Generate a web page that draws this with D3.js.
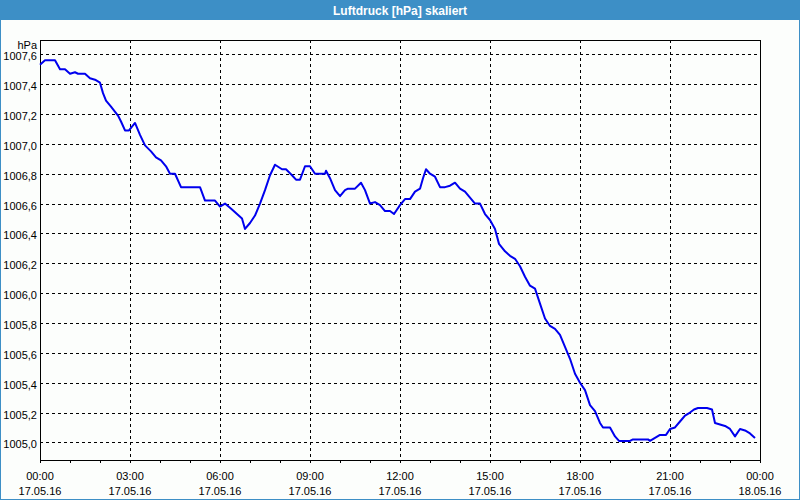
<!DOCTYPE html>
<html>
<head>
<meta charset="utf-8">
<script src="https://cdn.jsdelivr.net/npm/d3@7"></script>
<style>
  html, body { margin: 0; padding: 0; background: #fcfefc; }
  svg { display: block; }
  text { font-family: "Liberation Sans", Arial, sans-serif; }
</style>
</head>
<body>
<svg id="chart" width="800" height="500"></svg>
<script>
const titleText = "Luftdruck [hPa] skaliert";
const unitLabel = "hPa";
const times = ["00:00","00:10","00:30","00:40","00:50","01:00","01:10","01:16","01:30","01:40","01:50","02:00","02:06","02:12","02:22","02:36","02:42","02:50","02:58","03:10","03:20","03:30","03:42","03:52","04:02","04:12","04:20","04:30","04:42","05:20","05:30","05:50","06:00","06:10","06:24","06:34","06:44","06:50","07:00","07:10","07:20","07:30","07:40","07:50","08:04","08:12","08:24","08:32","08:40","08:50","09:00","09:10","09:30","09:32","09:40","09:50","10:00","10:10","10:16","10:30","10:42","10:50","11:00","11:10","11:20","11:30","11:40","11:48","12:00","12:10","12:20","12:30","12:40","12:46","12:52","13:00","13:10","13:20","13:30","13:40","13:50","14:00","14:10","14:20","14:30","14:40","14:50","15:00","15:10","15:18","15:30","15:40","15:50","16:00","16:10","16:20","16:30","16:40","16:50","17:00","17:10","17:20","17:30","17:40","17:50","18:00","18:10","18:20","18:30","18:40","18:46","19:00","19:10","19:18","19:40","19:46","20:16","20:20","20:30","20:40","20:52","21:00","21:10","21:20","21:30","21:40","21:48","21:56","22:14","22:24","22:30","22:40","22:50","23:00","23:10","23:20","23:30","23:40","23:50"];
const pressure = [1007.53,1007.56,1007.56,1007.50,1007.50,1007.47,1007.48,1007.47,1007.47,1007.44,1007.43,1007.41,1007.34,1007.29,1007.25,1007.19,1007.15,1007.09,1007.09,1007.14,1007.06,1006.99,1006.95,1006.91,1006.89,1006.85,1006.80,1006.80,1006.71,1006.71,1006.62,1006.62,1006.58,1006.60,1006.56,1006.53,1006.50,1006.43,1006.47,1006.52,1006.60,1006.69,1006.79,1006.86,1006.83,1006.83,1006.79,1006.76,1006.76,1006.85,1006.85,1006.80,1006.80,1006.82,1006.77,1006.69,1006.65,1006.69,1006.70,1006.70,1006.74,1006.69,1006.60,1006.61,1006.59,1006.55,1006.55,1006.53,1006.59,1006.63,1006.63,1006.68,1006.70,1006.77,1006.83,1006.80,1006.78,1006.71,1006.71,1006.72,1006.74,1006.70,1006.68,1006.64,1006.60,1006.60,1006.53,1006.49,1006.43,1006.33,1006.28,1006.25,1006.23,1006.18,1006.11,1006.05,1006.03,1005.93,1005.83,1005.78,1005.76,1005.72,1005.64,1005.56,1005.46,1005.40,1005.35,1005.25,1005.21,1005.13,1005.10,1005.10,1005.04,1005.01,1005.01,1005.02,1005.02,1005.01,1005.03,1005.05,1005.05,1005.09,1005.10,1005.14,1005.18,1005.20,1005.22,1005.23,1005.23,1005.22,1005.13,1005.12,1005.11,1005.09,1005.04,1005.09,1005.08,1005.06,1005.03];
const yTicks = [1005.0,1005.2,1005.4,1005.6,1005.8,1006.0,1006.2,1006.4,1006.6,1006.8,1007.0,1007.2,1007.4,1007.6];
const xTickHours = [0,3,6,9,12,15,18,21,24];
const xTickLabels = [["00:00","17.05.16"],["03:00","17.05.16"],["06:00","17.05.16"],["09:00","17.05.16"],["12:00","17.05.16"],["15:00","17.05.16"],["18:00","17.05.16"],["21:00","17.05.16"],["00:00","18.05.16"]];
const yDomain = [1004.882, 1007.696];

const W = 800, H = 500;
const plot = {left: 40, right: 760, top: 40, bottom: 460};
const svg = d3.select("#chart");

const hours = times.map(t => { const [h, m] = t.split(":").map(Number); return h + m / 60; });
const data = hours.map((h, i) => ({h, v: pressure[i]}));

const x = d3.scaleLinear().domain([0, 24]).range([plot.left, plot.right]);
const y = d3.scaleLinear().domain(yDomain).range([plot.bottom, plot.top]);

// background and frame
svg.append("rect").attr("width", W).attr("height", H).attr("fill", "#fcfefc");
svg.append("rect").attr("x", 0).attr("y", 0).attr("width", W).attr("height", 20).attr("fill", "#3d8fc6");
svg.append("rect").attr("x", 0.5).attr("y", 0.5).attr("width", W - 1).attr("height", H - 1)
  .attr("fill", "none").attr("stroke", "#3d8fc6").attr("stroke-width", 1);
svg.append("text").attr("x", W / 2).attr("y", 14.5).attr("text-anchor", "middle")
  .attr("fill", "#ffffff").attr("font-weight", "bold").attr("font-size", 12).text(titleText);

// grid
const grid = svg.append("g").attr("shape-rendering", "crispEdges");
grid.selectAll("line.h").data(yTicks).join("line")
  .attr("x1", plot.left).attr("x2", plot.right)
  .attr("y1", d => Math.round(y(d)) + 0.5).attr("y2", d => Math.round(y(d)) + 0.5)
  .attr("stroke", "#000").attr("stroke-dasharray", "3,3");
grid.selectAll("line.v").data(xTickHours.filter(h => h > 0 && h < 24)).join("line")
  .attr("x1", d => Math.round(x(d)) + 0.5).attr("x2", d => Math.round(x(d)) + 0.5)
  .attr("y1", plot.top).attr("y2", plot.bottom)
  .attr("stroke", "#000").attr("stroke-dasharray", "3,3");

// axes
const xAxis = d3.axisBottom(x).tickValues(d3.range(0, 25, 1)).tickSize(3).tickFormat("");
const gx = svg.append("g").attr("transform", `translate(0,${plot.bottom})`).call(xAxis);
gx.select(".domain").attr("stroke", "#000");
gx.selectAll(".tick line").attr("stroke", "#000");

const gy = svg.append("g").attr("transform", `translate(${plot.left},0)`)
  .call(d3.axisLeft(y).tickValues(yTicks).tickSize(0).tickPadding(3)
    .tickFormat(d => d3.format(".1f")(d).replace(".", ",")));
gy.select(".domain").remove();
gy.selectAll(".tick text").attr("font-size", 11).attr("fill", "#000")
  .attr("font-family", "Liberation Sans, Arial, sans-serif").attr("dy", "0.5em");

// plot frame
svg.append("rect").attr("x", plot.left + 0.5).attr("y", plot.top + 0.5)
  .attr("width", plot.right - plot.left).attr("height", plot.bottom - plot.top)
  .attr("fill", "none").attr("stroke", "#000").attr("shape-rendering", "crispEdges");

svg.append("text").attr("x", 37).attr("y", 49).attr("text-anchor", "end")
  .attr("font-size", 11).attr("fill", "#000").text(unitLabel);

// x labels
const xl = svg.append("g");
xTickHours.forEach((h, i) => {
  xl.append("text").attr("x", x(h)).attr("y", 480).attr("text-anchor", "middle")
    .attr("font-size", 11).attr("fill", "#000").text(xTickLabels[i][0]);
  xl.append("text").attr("x", x(h)).attr("y", 494.5).attr("text-anchor", "middle")
    .attr("font-size", 11).attr("fill", "#000").text(xTickLabels[i][1]);
});

// line
const line = d3.line().x(d => x(d.h)).y(d => y(d.v));
svg.append("path").datum(data).attr("d", line)
  .attr("fill", "none").attr("stroke", "#0000ee").attr("stroke-width", 2)
  .attr("stroke-linejoin", "round");
</script>
</body>
</html>
